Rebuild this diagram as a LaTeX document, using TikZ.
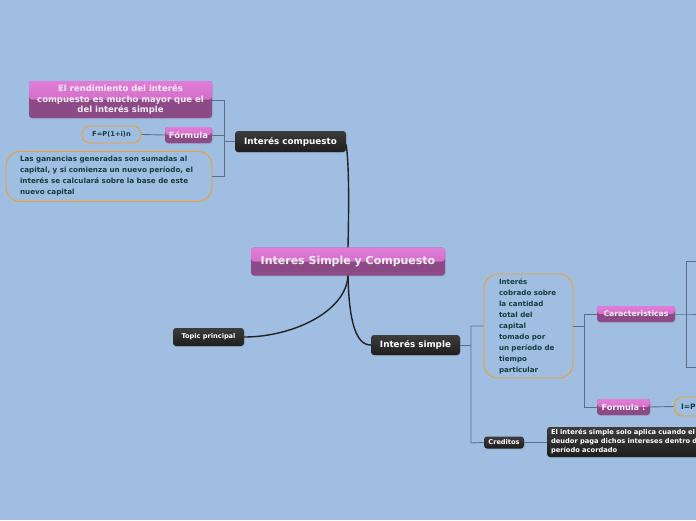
\documentclass[tikz,border=0pt]{standalone}
\usepackage{fontspec}
\setmainfont{DejaVu Sans}
\usetikzlibrary{shadows}
\definecolor{bg}{HTML}{A0BEE1}
\definecolor{pinkT}{HTML}{E27CD9}
\definecolor{pinkM}{HTML}{C463B6}
\definecolor{pinkB}{HTML}{8C4A86}
\definecolor{darkT}{HTML}{3C3C3C}
\definecolor{darkB}{HTML}{1E1E1E}
\definecolor{orng}{HTML}{F0A028}
\definecolor{teal}{HTML}{123E3E}
\definecolor{brk}{HTML}{5E6E88}
\definecolor{curv}{HTML}{222222}
\definecolor{wtext}{HTML}{F4EEF4}
\tikzset{
  x=1pt, y=-1pt,
  base/.style={inner sep=0pt, font=\bfseries},
  pinkbox/.style={base, rounded corners=3pt, fill=pinkB, text=wtext,
    drop shadow={shadow xshift=0.6pt, shadow yshift=-1pt, opacity=0.25},
    path picture={\shade[top color=pinkT, bottom color=pinkM]
      (path picture bounding box.north west) rectangle (path picture bounding box.east);}},
  darkbox/.style={base, rounded corners=3pt, top color=darkT, bottom color=darkB, text=white,
    drop shadow={shadow xshift=0.6pt, shadow yshift=-1pt, opacity=0.25}},
  orbox/.style={base, draw=orng, line width=0.9pt, text=teal},
  bracket/.style={draw=brk, line width=0.9pt},
  mainc/.style={draw=curv, line width=1.4pt},
}
\begin{document}
\begin{tikzpicture}
\useasboundingbox (0,0) rectangle (696,520);
\fill[bg] (0,0) rectangle (696,520);
\clip (0,0) rectangle (696,520);

% nodes
\node[pinkbox, minimum width=194pt, minimum height=28pt, font=\bfseries\fontsize{11}{12}\selectfont] (root) at (348,261.5) {Interes Simple y Compuesto};
\node[darkbox, minimum width=111pt, minimum height=21pt, font=\bfseries\fontsize{8.8}{10}\selectfont] (ic) at (290.5,141.5) {Interés compuesto};
\node[pinkbox, minimum width=183pt, minimum height=37pt, align=center, font=\bfseries\fontsize{8.5}{10.7}\selectfont] (rend) at (120.5,99.5) {El rendimiento del interés\\compuesto es mucho mayor que el\\del interés simple};
\node[orbox, rounded corners=8pt, minimum width=59pt, minimum height=17pt, font=\bfseries\fontsize{6.7}{8}\selectfont] (fpi) at (111.5,134.5) {F=P(1+i)n};
\node[pinkbox, minimum width=47pt, minimum height=16pt, font=\bfseries\fontsize{8.5}{10}\selectfont] (form) at (188.5,135) {Fórmula};
\node[orbox, rounded corners=14pt, minimum width=206pt, minimum height=50pt, text width=178pt, inner xsep=14pt, align=left, font=\bfseries\fontsize{7.2}{11}\selectfont] (gan) at (109,176.5) {Las ganancias generadas son sumadas al\\capital, y si comienza un nuevo período, el\\interés se calculará sobre la base de este\\nuevo capital};
\node[darkbox, minimum width=71pt, minimum height=18pt, font=\bfseries\fontsize{6.6}{8}\selectfont] (topic) at (208.5,337) {Topic principal};
\node[darkbox, minimum width=89pt, minimum height=20pt, font=\bfseries\fontsize{8.8}{10}\selectfont] (is) at (415.5,345) {Interés simple};
\node[orbox, rounded corners=14pt, minimum width=89pt, minimum height=104pt, text width=59pt, inner xsep=15pt, align=left, font=\bfseries\fontsize{7.1}{11}\selectfont] (cob) at (528.5,326) {Interés\\cobrado sobre\\la cantidad\\total del\\capital\\tomado por\\un período de\\tiempo\\particular};
\node[pinkbox, minimum width=78pt, minimum height=16pt, font=\bfseries\fontsize{7.7}{9}\selectfont] (car) at (636,314) {Caracteristicas};
\node[pinkbox, minimum width=53pt, minimum height=16pt, font=\bfseries\fontsize{8.2}{9}\selectfont] (fml) at (623.5,407) {Formula :};
\node[orbox, rounded corners=9pt, minimum width=60pt, minimum height=19pt, text width=46pt, inner xsep=7pt, align=left, font=\bfseries\fontsize{7.5}{9}\selectfont] (ipn) at (704,406.5) {I=P·i·n};
\node[darkbox, minimum width=40pt, minimum height=12pt, font=\bfseries\fontsize{6.6}{8}\selectfont] (cred) at (504,442.5) {Creditos};
\node[darkbox, minimum width=200pt, minimum height=30pt, text width=192pt, inner xsep=4pt, align=left, font=\bfseries\fontsize{6.7}{9}\selectfont] (del) at (647,442) {El interés simple solo aplica cuando el\\deudor paga dichos intereses dentro del\\período acordado};

% coordinates
\coordinate (b1t) at (224,100);
\coordinate (b1m) at (224,135);
\coordinate (b1g) at (224,176);
\coordinate (b1c) at (224,141.5);
\coordinate (b2c) at (471,345);
\coordinate (b2t) at (471,326);
\coordinate (b2b) at (471,443);
\coordinate (b3c) at (584,326);
\coordinate (b3t) at (584,314);
\coordinate (b3b) at (584,407);
\coordinate (b4c) at (686,314);
\coordinate (b4t) at (686,261);
\coordinate (b4b) at (686,367);
\coordinate (e4t) at (700,261);
\coordinate (e4c) at (700,314);
\coordinate (e4b) at (700,367);

% bracket connectors
\draw[bracket] (rend.east |- b1t) -- (b1t) -- (b1g) -- (gan.east |- b1g);
\draw[bracket] (form.east) -- (b1m);
\draw[bracket] (b1c) -- (ic.west);
\draw[bracket] (fpi.east) -- (form.west);
\draw[bracket] (is.east) -- (b2c);
\draw[bracket] (cob.west |- b2t) -- (b2t) -- (b2b) -- (cred.west);
\draw[bracket] (cob.east) -- (b3c);
\draw[bracket] (car.west) -- (b3t) -- (b3b) -- (fml.west);
\draw[bracket] (car.east) -- (b4c) -- (e4c);
\draw[bracket] (e4t) -- (b4t) -- (b4b) -- (e4b);
\draw[bracket] (fml.east) -- (ipn.west);
\draw[bracket] (cred.east) -- (del.west |- cred.east);

% main curves
\draw[mainc] ([yshift=-3pt]ic.east) .. controls (349,165) and (349,200) .. (root.north);
\draw[mainc] (root.south) .. controls (346,312) and (292,337) .. (topic.east);
\draw[mainc] (root.south) .. controls (349,322) and (356,345) .. (is.west);
\end{tikzpicture}
\end{document}
